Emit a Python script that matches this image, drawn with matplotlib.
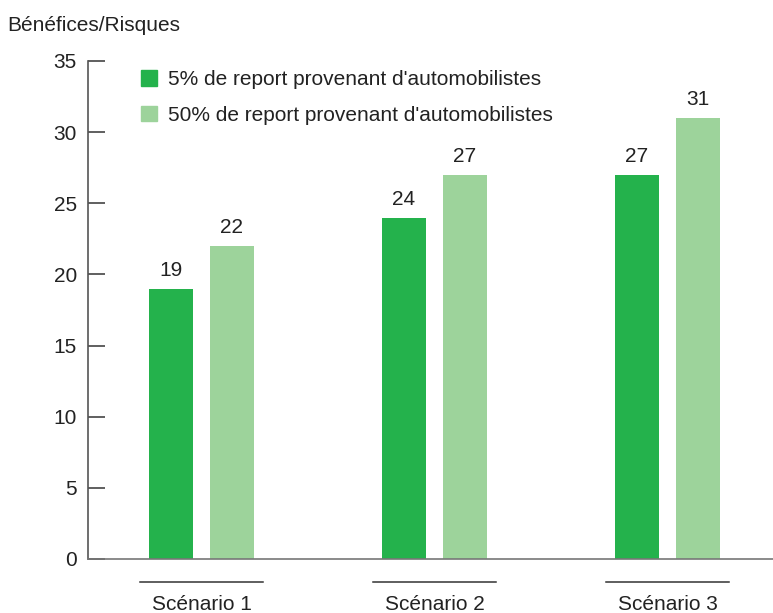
import matplotlib.pyplot as plt
from matplotlib.patches import Patch
import numpy as np

plt.rcParams['font.family'] = ['Liberation Sans', 'DejaVu Sans']

scenarios = ['Scénario 1', 'Scénario 2', 'Scénario 3']
series_names = ["5% de report provenant d'automobilistes",
                "50% de report provenant d'automobilistes"]
vals_5 = [19, 24, 27]
vals_50 = [22, 27, 31]
yticks = [0, 5, 10, 15, 20, 25, 30, 35]

dark = '#24b24c'
light = '#9dd39b'
txt = '#222222'
fs = 15

fig = plt.figure(figsize=(7.73, 6.13), dpi=100)
ax = fig.add_axes([0.1138, 0.0881, 0.8862, 0.8124])

x = np.arange(len(scenarios))
w = 0.189
off = 0.131
b1 = ax.bar(x - off, vals_5, w, color=dark)
b2 = ax.bar(x + off, vals_50, w, color=light)

for bars, vals in ((b1, vals_5), (b2, vals_50)):
    for b, v in zip(bars, vals):
        ax.text(b.get_x() + b.get_width() / 2, v + 0.6, str(v),
                ha='center', va='bottom', fontsize=fs, color=txt)

ax.set_xlim(-0.487, 2.453)
ax.set_ylim(0, 35)
ax.set_yticks(yticks)
ax.tick_params(axis='y', direction='in', length=12, width=1.2,
               color='#444444', labelsize=fs, labelcolor=txt, pad=8)
ax.set_xticks(x)
ax.set_xticklabels(scenarios)
ax.tick_params(axis='x', length=0, pad=26, labelsize=fs, labelcolor=txt)

for s in ['top', 'right']:
    ax.spines[s].set_visible(False)
ax.spines['left'].set_color('#555555')
ax.spines['bottom'].set_color('#777777')
ax.spines['left'].set_linewidth(1.2)
ax.spines['bottom'].set_linewidth(1.2)

# short lines under each group
trans = ax.get_xaxis_transform()
for xi in x:
    ax.plot([xi - 0.264, xi + 0.264], [-0.046, -0.046], transform=trans,
            color='#333333', lw=1.1, clip_on=False)

handles = [Patch(color=dark), Patch(color=light)]
ax.legend(handles, series_names, loc='upper left', bbox_to_anchor=(0.064, 1.0),
          frameon=False, fontsize=fs, handlelength=0.75, handleheight=0.75,
          handletextpad=0.55, labelspacing=0.8, borderaxespad=0.05,
          labelcolor=txt)

fig.text(0.010, 0.958, 'Bénéfices/Risques', fontsize=fs, color=txt,
         ha='left', va='center')

fig.savefig('out.png', dpi=100)
